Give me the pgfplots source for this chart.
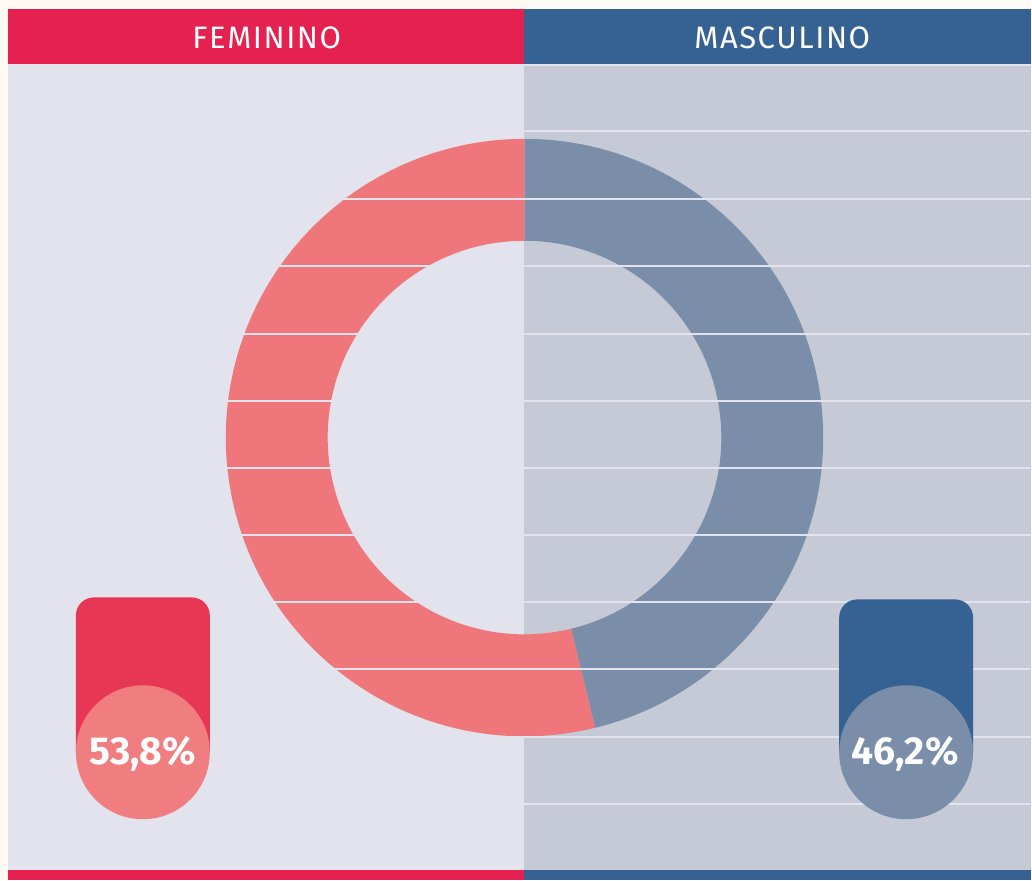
\documentclass[border=0pt]{standalone}
\usepackage{pgfplots}
\pgfplotsset{compat=1.18}
\usepackage{fontspec}
\setmainfont{Fira Sans}
\definecolor{cream}{HTML}{FEFAF3}
\definecolor{hdrred}{HTML}{E5214F}
\definecolor{hdrblue}{HTML}{366293}
\definecolor{leftbg}{HTML}{E2E3EC}
\definecolor{rightbg}{HTML}{C6CAD6}
\definecolor{ringpink}{HTML}{EF777C}
\definecolor{ringblue}{HTML}{7A8EA9}
\definecolor{badgered}{HTML}{E83754}
\definecolor{badgepink}{HTML}{F07E80}
\definecolor{badgeblue}{HTML}{356193}
\definecolor{badgegrey}{HTML}{7A8EAA}
\def\valF{53.8}
\def\valM{46.2}
\begin{document}
\begin{tikzpicture}
\begin{axis}[x=0.5pt,y=0.5pt,y dir=reverse,xmin=0,xmax=1032,ymin=0,ymax=881,hide axis,clip=false]
\fill[cream] (axis cs:0,0) rectangle (axis cs:1032,881);
\fill[leftbg] (axis cs:8,64) rectangle (axis cs:525,871);
\fill[rightbg] (axis cs:525,64) rectangle (axis cs:1032,871);
\fill[hdrred] (axis cs:8,9) rectangle (axis cs:525,64);
\fill[hdrblue] (axis cs:525,9) rectangle (axis cs:1032,64);
\fill[hdrred] (axis cs:8,871) rectangle (axis cs:525,881);
\fill[hdrblue] (axis cs:525,871) rectangle (axis cs:1032,881);
\node[text=white,anchor=base,font=\fontsize{15.5}{15.5}\selectfont\addfontfeature{LetterSpace=5}] at (axis cs:267,49) {FEMININO};
\node[text=white,anchor=base,font=\fontsize{15.5}{15.5}\selectfont\addfontfeature{LetterSpace=5}] at (axis cs:783,49) {MASCULINO};
% donut from the two values
\pgfmathsetmacro{\angM}{90-3.6*\valM}
\pgfmathsetmacro{\angMr}{\angM+180}
\fill[ringblue] (axis cs:525,438) ++(90:149.5pt) arc[start angle=90,end angle=\angM,radius=149.5pt] -- ++(\angMr:51pt) arc[start angle=\angM,end angle=90,radius=98.5pt] -- cycle;
\fill[ringpink] (axis cs:525,438) ++(\angM:149.5pt) arc[start angle=\angM,end angle=-270,radius=149.5pt] -- ++(-90:51pt) arc[start angle=-270,end angle=\angM,radius=98.5pt] -- cycle;
% stripes
\pgfplotsinvokeforeach{65,131,199,266,334,401,468,536,603,670,738,805}{
\draw[leftbg,line width=1pt] (axis cs:8,#1) -- (axis cs:1032,#1);
}
% badges
\fill[badgered] (axis cs:76,753) [rounded corners=9pt] -- (axis cs:76,598) -- (axis cs:210,598) [sharp corners] -- (axis cs:210,753) -- cycle;
\fill[badgepink] (axis cs:143,753) circle[radius=33.5pt];
\node[text=white,anchor=base,font=\bfseries\fontsize{19.5}{19.5}\selectfont] at (axis cs:143,765) {53,8\%};
\fill[badgeblue] (axis cs:840,753) [rounded corners=9pt] -- (axis cs:840,600) -- (axis cs:974,600) [sharp corners] -- (axis cs:974,753) -- cycle;
\fill[badgegrey] (axis cs:907,753) circle[radius=33.5pt];
\node[text=white,anchor=base,font=\bfseries\fontsize{19.5}{19.5}\selectfont] at (axis cs:906,765) {46,2\%};
\end{axis}
\end{tikzpicture}
\end{document}
